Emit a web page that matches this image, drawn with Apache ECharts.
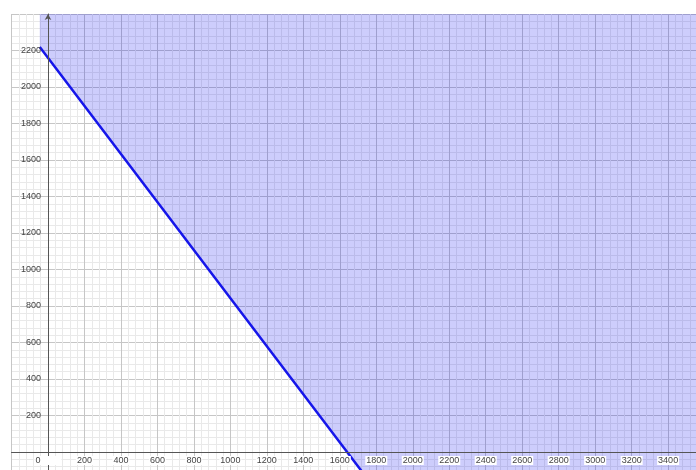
<!DOCTYPE html>
<html>
<head>
<meta charset="utf-8">
<script src="https://cdn.jsdelivr.net/npm/echarts@6/dist/echarts.min.js"></script>
<style>
  html, body { margin: 0; padding: 0; background: #fff; }
  #main { width: 696px; height: 470px; }
</style>
</head>
<body>
<div id="main"></div>
<script>
// boundary line of the shaded half-plane,
// continued along the bottom edge so the area reaches the right side
var boundaryX = [-45, 1640, 1792, 3600];
var boundaryY = [2219, 0, -200, -200];

var xRange = [-200, 3600];
var yRange = [-200, 2400];
var step = 200;

var chart = echarts.init(document.getElementById('main'));

var labelFont = { fontSize: 9, color: '#444', fontFamily: 'Liberation Sans' };

function xLabel(v) {
  if (v === 0) return '{o|0}';
  if (v < 0 || v >= 3600) return '';
  return String(v);
}
function yLabel(v) {
  if (v <= 0 || v >= 2400) return '';
  return String(v);
}

option = {
  animation: false,
  backgroundColor: '#fff',
  grid: {
    left: 11.5, right: -8.6, top: 14, bottom: -18.5,
    containLabel: false, outerBoundsMode: 'none'
  },
  xAxis: [
    {
      // axis line + labels, shifted up onto y = 0
      type: 'value', min: xRange[0], max: xRange[1], interval: step,
      position: 'bottom', offset: -36.5, z: 10,
      axisLine: { onZero: false, lineStyle: { color: '#555', width: 1 } },
      axisTick: { show: false },
      splitLine: { show: false },
      axisLabel: Object.assign({
        margin: 4, formatter: xLabel,
        backgroundColor: '#fff', padding: [0, 1],
        rich: { o: { fontSize: 9, color: '#444', padding: [0, 20, 0, 0] } }
      }, labelFont)
    },
    {
      type: 'value', min: xRange[0], max: xRange[1], interval: step,
      position: 'top', z: 0,
      axisLine: { show: false }, axisTick: { show: false }, axisLabel: { show: false },
      splitLine: { show: true, lineStyle: { color: '#c6c6c6', width: 1 } },
      minorTick: { show: false, splitNumber: 5 },
      minorSplitLine: { show: true, lineStyle: { color: '#e9e9e9', width: 1 } }
    }
  ],
  yAxis: [
    {
      // axis line + labels, shifted right onto x = 0
      type: 'value', min: yRange[0], max: yRange[1], interval: step,
      position: 'left', offset: -36.5, z: 10,
      axisLine: { onZero: false, symbol: ['none', 'arrow'], symbolSize: [5, 6],
        lineStyle: { color: '#555', width: 1 } },
      axisTick: { show: false },
      splitLine: { show: false },
      axisLabel: Object.assign({ margin: 7, formatter: yLabel }, labelFont)
    },
    {
      type: 'value', min: yRange[0], max: yRange[1], interval: step,
      position: 'right', z: 0,
      axisLine: { show: false }, axisTick: { show: false }, axisLabel: { show: false },
      splitLine: { show: true, lineStyle: { color: '#c6c6c6', width: 1 } },
      minorTick: { show: false, splitNumber: 5 },
      minorSplitLine: { show: true, lineStyle: { color: '#e9e9e9', width: 1 } }
    }
  ],
  series: [
    {
      type: 'line',
      xAxisIndex: 0, yAxisIndex: 0,
      data: boundaryX.map(function (x, i) { return [x, boundaryY[i]]; }),
      symbol: 'none',
      lineStyle: { color: '#1616ea', width: 2.5 },
      areaStyle: { origin: 'end', color: 'rgba(10,10,238,0.29)' },
      z: 2
    }
  ]
};

chart.setOption(option);
</script>
</body>
</html>
